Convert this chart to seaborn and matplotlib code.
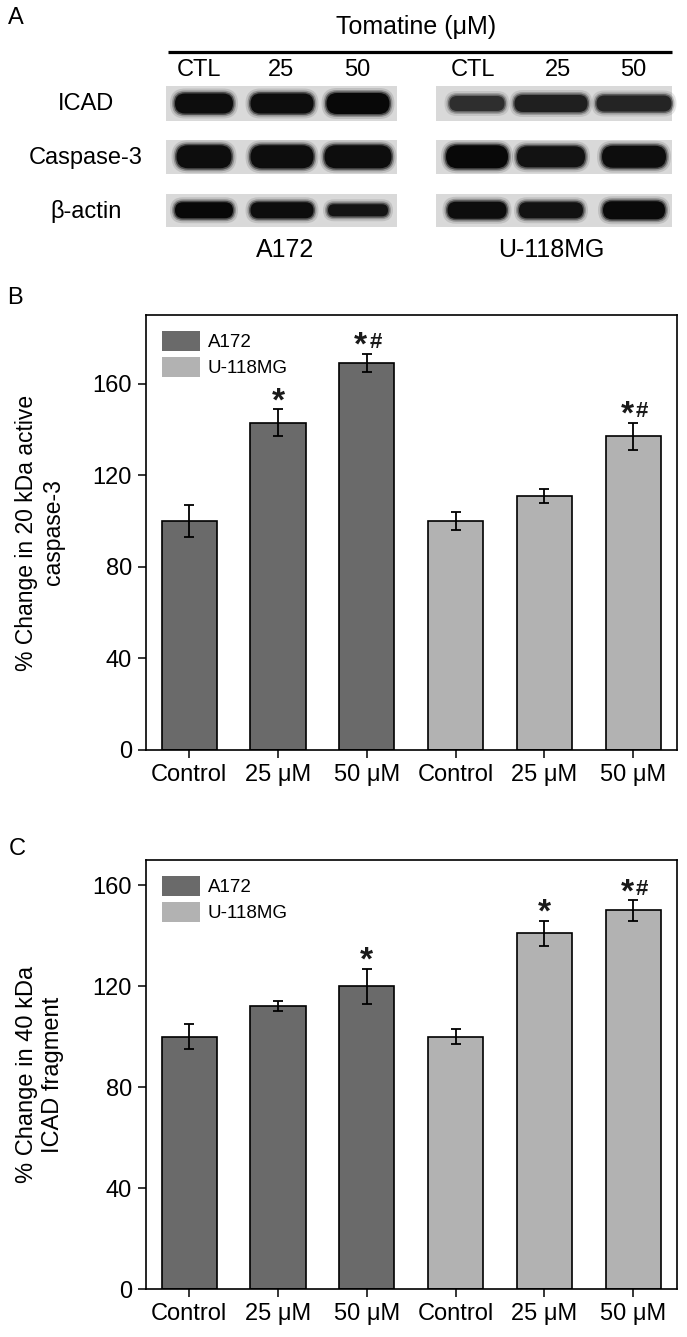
import numpy as np
import pandas as pd
import matplotlib
matplotlib.use("Agg")
import matplotlib.pyplot as plt
from matplotlib.patches import Patch, FancyBboxPatch, Rectangle
import seaborn as sns

# ---- data ----
cell_lines = ["A172", "U-118MG"]
doses = ["Control", "25 μM", "50 μM"]

casp3_mean = [100, 143, 169, 100, 111, 137]
casp3_err = [7, 6, 4, 4, 3, 6]
casp3_marks = ["", "*", "*#", "", "", "*#"]

icad_mean = [100, 112, 120, 100, 141, 150]
icad_err = [5, 2, 7, 3, 5, 4]
icad_marks = ["", "", "*", "", "*", "*#"]

# western blot (panel A): rows x lanes (A172 CTL/25/50, U-118MG CTL/25/50)
blot_rows = ["ICAD", "Caspase-3", "β-actin"]
lane_labels = ["CTL", "25", "50"]
band_w = [[58, 63, 63, 55, 73, 75],
          [55, 63, 67, 62, 68, 64],
          [58, 63, 60, 59, 64, 62]]
band_h = [[20, 20, 21, 15, 17, 16],
          [23, 23, 23, 23, 21, 22],
          [16, 16, 12, 17, 16, 18]]
band_dark = [[0.95, 0.95, 0.97, 0.82, 0.88, 0.86],
             [0.95, 0.95, 0.95, 0.97, 0.93, 0.95],
             [0.97, 0.95, 0.92, 0.95, 0.93, 0.96]]

palette = {"A172": "#6a6a6a", "U-118MG": "#b2b2b2"}

sns.set_theme(style="ticks")
plt.rcParams["font.family"] = ["Liberation Sans", "DejaVu Sans"]
plt.rcParams["text.color"] = "black"
plt.rcParams["axes.labelcolor"] = "black"

W, H = 687, 1337
fig = plt.figure(figsize=(W / 100, H / 100), dpi=100)

# ---- panel A: blots drawn in pixel space ----
axA = fig.add_axes([0, 1 - 265 / H, 1, 265 / H])
axA.set_xlim(0, W)
axA.set_ylim(265, 0)
axA.axis("off")

axA.text(416, 27, "Tomatine (μM)", ha="center", va="center", fontsize=18)
axA.plot([168, 672], [52.3, 52.3], color="black", lw=2.3, solid_capstyle="butt")
lane_x = [199, 281, 357, 473, 558, 633]
for i, lx in enumerate(lane_x):
    axA.text(lx, 70, lane_labels[i % 3], ha="center", va="center", fontsize=17)

band_x = [204, 282, 358, 477, 551, 634]
row_span = [(86, 121), (139.5, 174), (193.5, 227)]
blot_span = [(165.7, 396.7), (436.3, 671.6)]
for r, (y0, y1) in enumerate(row_span):
    axA.text(86, (y0 + y1) / 2 + 1, blot_rows[r], ha="center", va="center", fontsize=17)
    for x0, x1 in blot_span:
        axA.add_patch(Rectangle((x0, y0), x1 - x0, y1 - y0, facecolor="#d9d9d9",
                                edgecolor="none"))
    yc = (y0 + y1) / 2
    for k in range(6):
        w, h, d = band_w[r][k], band_h[r][k], band_dark[r][k]
        g = 1 - d
        for pad, a in [(10, 0.12), (6, 0.25), (3, 0.5), (0, 1.0)]:
            ww, hh = w + pad, h + pad
            axA.add_patch(FancyBboxPatch((band_x[k] - ww / 2, yc - hh / 2), ww, hh,
                                         boxstyle=f"round,pad=0,rounding_size={hh / 2}",
                                         facecolor=(g, g, g), edgecolor="none", alpha=a))
axA.text(285, 250, "A172", ha="center", va="center", fontsize=18)
axA.text(551, 250, "U-118MG", ha="center", va="center", fontsize=18)

fig.text(16 / W, 1 - 18 / H, "A", ha="center", va="center", fontsize=17)
fig.text(15 / W, 1 - 298 / H, "B", ha="center", va="center", fontsize=17)
fig.text(17 / W, 1 - 849 / H, "C", ha="center", va="center", fontsize=17)


def bar_panel(ax, means, errs, marks, ymax, ylabel, ylab_size):
    df = pd.DataFrame({
        "slot": [f"{c} {d}" for c in cell_lines for d in doses],
        "line": [c for c in cell_lines for d in doses],
        "value": means,
    })
    sns.barplot(data=df, x="slot", y="value", hue="line", palette=palette,
                dodge=False, width=0.62, saturation=1, edgecolor="black",
                linewidth=1.2, errorbar=None, legend=False, ax=ax, zorder=2)
    xs = np.arange(len(means))
    ax.errorbar(xs, means, yerr=errs, fmt="none", ecolor="black", elinewidth=1.3,
                capsize=3.3, capthick=1.3, zorder=5)
    for i, (m, e, s) in enumerate(zip(means, errs, marks)):
        if s == "*":
            ax.annotate("*", xy=(i, m + e), xytext=(0, -1), textcoords="offset points",
                        ha="center", va="baseline", fontsize=24, fontweight="bold",
                        color="#1a1a1a")
        elif s == "*#":
            ax.annotate("*", xy=(i, m + e), xytext=(-4.5, -0.5), textcoords="offset points",
                        ha="center", va="baseline", fontsize=24, fontweight="bold",
                        color="#1a1a1a")
            ax.annotate("#", xy=(i, m + e), xytext=(6.3, 4), textcoords="offset points",
                        ha="center", va="baseline", fontsize=16, fontweight="bold",
                        color="#1a1a1a")
    ax.set_xlim(-0.49, len(means) - 0.51)
    ax.set_ylim(0, ymax)
    ax.set_yticks([0, 40, 80, 120, 160])
    ax.set_xticks(xs)
    ax.set_xticklabels(doses * 2)
    ax.set_xlabel("")
    ax.set_ylabel(ylabel, fontsize=ylab_size, va="center", linespacing=1.25)
    ax.yaxis.set_label_coords(-(145.7 - 40) / 531, 0.5)
    ax.tick_params(direction="out", length=6, width=1.1, labelsize=17, pad=4,
                   color="black", labelcolor="black")
    for sp in ax.spines.values():
        sp.set_visible(True)
        sp.set_linewidth(1.2)
        sp.set_color("black")
    handles = [Patch(facecolor=palette[c], edgecolor="none", label=c) for c in cell_lines]
    ax.legend(handles=handles, loc="upper left", bbox_to_anchor=(16 / 531, 1 - 16 / 430),
              frameon=False, fontsize=13.5, handlelength=2.05, handleheight=1.25,
              labelspacing=0.3, handletextpad=0.4, borderpad=0, borderaxespad=0)


axB = fig.add_axes([145.7 / W, 1 - 750 / H, 531 / W, (750 - 315) / H])
bar_panel(axB, casp3_mean, casp3_err, casp3_marks, 190,
          "% Change in 20 kDa active\ncaspase-3", 16.5)

axC = fig.add_axes([145.7 / W, 1 - 1289 / H, 531 / W, (1289 - 860) / H])
bar_panel(axC, icad_mean, icad_err, icad_marks, 170,
          "% Change in 40 kDa\nICAD fragment", 17)

fig.savefig("out.png", dpi=100)
